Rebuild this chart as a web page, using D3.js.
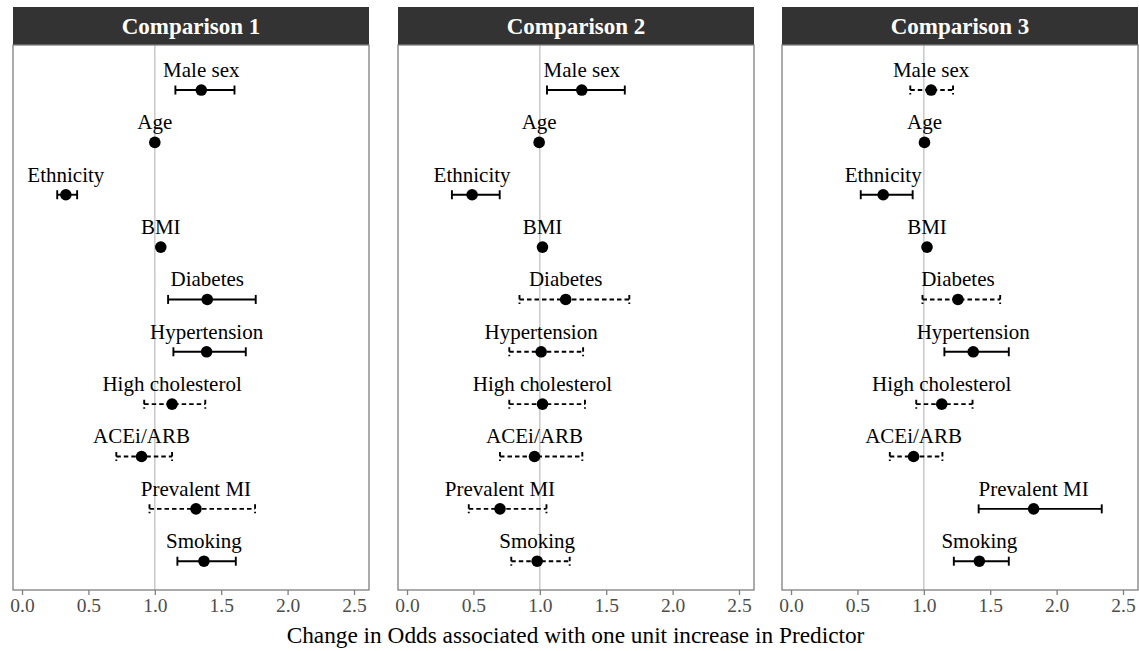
<!DOCTYPE html>
<html>
<head>
<meta charset="utf-8">
<script src="https://cdn.jsdelivr.net/npm/d3@7"></script>
<style>
  body { margin: 0; background: #fff; }
  svg { display: block; font-family: "Liberation Serif", "DejaVu Serif", serif; }
</style>
</head>
<body>
<div class="forest"></div>
<script>
// predictors, top to bottom
var predictors = ["Male sex", "Age", "Ethnicity", "BMI", "Diabetes", "Hypertension",
  "High cholesterol", "ACEi/ARB", "Prevalent MI", "Smoking"];
var comparisons = ["Comparison 1", "Comparison 2", "Comparison 3"];
var xTicks = [0.0, 0.5, 1.0, 1.5, 2.0, 2.5];

// odds ratios
var estimate1 = [1.35, 1.00, 0.33, 1.045, 1.395, 1.39, 1.13, 0.90, 1.31, 1.37];
var lower1    = [1.155, 0.99, 0.265, 1.035, 1.10, 1.14, 0.92, 0.71, 0.96, 1.17];
var upper1    = [1.60, 1.01, 0.415, 1.055, 1.76, 1.685, 1.38, 1.13, 1.755, 1.61];
var signif1   = [true, true, true, true, true, true, false, false, false, true];

var estimate2 = [1.316, 0.995, 0.49, 1.02, 1.195, 1.01, 1.02, 0.96, 0.70, 0.98];
var lower2    = [1.054, 0.985, 0.338, 1.01, 0.847, 0.77, 0.77, 0.70, 0.465, 0.785];
var upper2    = [1.64, 1.005, 0.698, 1.03, 1.674, 1.326, 1.34, 1.32, 1.05, 1.225];
var signif2   = [true, true, true, true, false, false, false, false, false, false];

var estimate3 = [1.055, 1.005, 0.694, 1.024, 1.257, 1.372, 1.135, 0.923, 1.827, 1.418];
var lower3    = [0.898, 0.995, 0.525, 1.014, 0.99, 1.155, 0.943, 0.744, 1.413, 1.226];
var upper3    = [1.22, 1.015, 0.916, 1.034, 1.575, 1.64, 1.367, 1.14, 2.34, 1.64];
var signif3   = [false, true, true, true, false, true, false, false, true, true];

function init() {
  var w = 1139;
  var h = 651;
  var stripTop = 7, stripH = 38;
  var panelTop = stripTop + stripH, panelBottom = 590;
  var panelLefts = [13, 398, 782];
  var panelW = 356;

  var panels = [
    { est: estimate1, lo: lower1, hi: upper1, sig: signif1 },
    { est: estimate2, lo: lower2, hi: upper2, sig: signif2 },
    { est: estimate3, lo: lower3, hi: upper3, sig: signif3 }
  ];

  var svg = d3.select(".forest")
    .append("svg")
    .attr("width", w)
    .attr("height", h);

  // row positions (index 0 at top)
  var yScale = d3.scaleLinear()
    .domain([-0.86, 9.55])
    .range([panelTop, panelBottom]);

  panels.forEach(function(p, k) {
    var left = panelLefts[k];
    var g = svg.append("g").attr("transform", "translate(" + left + ",0)");

    var xScale = d3.scaleLinear()
      .domain([-0.068, 2.613])
      .range([0, panelW]);

    var rows = predictors.map(function(name, i) {
      return { name: name, i: i, est: p.est[i], lo: p.lo[i], hi: p.hi[i], sig: p.sig[i] };
    });

    // strip
    g.append("rect")
      .attr("x", 0).attr("y", stripTop)
      .attr("width", panelW).attr("height", stripH)
      .attr("fill", "#333333");
    g.append("text")
      .text(comparisons[k])
      .attr("x", panelW / 2)
      .attr("y", stripTop + 27)
      .attr("text-anchor", "middle")
      .attr("font-size", "23px")
      .attr("font-weight", "bold")
      .attr("fill", "white");

    // reference line at 1
    g.append("line")
      .attr("x1", xScale(1)).attr("x2", xScale(1))
      .attr("y1", panelTop).attr("y2", panelBottom)
      .attr("stroke", "#cccccc")
      .attr("stroke-width", 1.6);

    // error bars
    var bars = g.selectAll("g.bar")
      .data(rows)
      .enter()
      .append("g")
      .attr("class", "bar")
      .attr("stroke", "black")
      .attr("stroke-width", 1.9)
      .attr("fill", "none")
      .attr("stroke-dasharray", function(d) { return d.sig ? null : "4.5,3"; });

    bars.append("line")
      .attr("x1", function(d) { return xScale(d.lo); })
      .attr("x2", function(d) { return xScale(d.hi); })
      .attr("y1", function(d) { return yScale(d.i); })
      .attr("y2", function(d) { return yScale(d.i); });
    bars.append("line")
      .attr("x1", function(d) { return xScale(d.lo); })
      .attr("x2", function(d) { return xScale(d.lo); })
      .attr("y1", function(d) { return yScale(d.i) - 4.5; })
      .attr("y2", function(d) { return yScale(d.i) + 4.5; });
    bars.append("line")
      .attr("x1", function(d) { return xScale(d.hi); })
      .attr("x2", function(d) { return xScale(d.hi); })
      .attr("y1", function(d) { return yScale(d.i) - 4.5; })
      .attr("y2", function(d) { return yScale(d.i) + 4.5; });

    // points
    g.selectAll("circle")
      .data(rows)
      .enter()
      .append("circle")
      .attr("cx", function(d) { return xScale(d.est); })
      .attr("cy", function(d) { return yScale(d.i); })
      .attr("r", 5.8)
      .attr("fill", "black");

    // labels
    g.selectAll("text.lab")
      .data(rows)
      .enter()
      .append("text")
      .attr("class", "lab")
      .text(function(d) { return d.name; })
      .attr("x", function(d) { return xScale(d.est); })
      .attr("y", function(d) { return yScale(d.i) - 13; })
      .attr("text-anchor", "middle")
      .attr("font-size", "21px")
      .attr("fill", "black");

    // border
    g.append("rect")
      .attr("x", 0).attr("y", panelTop)
      .attr("width", panelW).attr("height", panelBottom - panelTop)
      .attr("fill", "none")
      .attr("stroke", "#7f7f7f")
      .attr("stroke-width", 1.3);

    // x axis
    var xAxis = d3.axisBottom(xScale)
      .tickValues(xTicks)
      .tickSize(5)
      .tickPadding(3)
      .tickFormat(d3.format(".1f"));
    var ax = g.append("g")
      .attr("transform", "translate(0," + panelBottom + ")")
      .call(xAxis);
    ax.select(".domain").remove();
    ax.selectAll(".tick line").attr("stroke", "#7f7f7f").attr("stroke-width", 1.3);
    ax.selectAll(".tick text")
      .attr("fill", "#4d4d4d")
      .attr("font-size", "19.5px")
      .attr("font-family", "Liberation Serif, serif");
  });

  svg.append("text")
    .text("Change in Odds associated with one unit increase in Predictor")
    .attr("x", (panelLefts[0] + panelLefts[2] + panelW) / 2)
    .attr("y", 643)
    .attr("text-anchor", "middle")
    .attr("font-size", "23.3px")
    .attr("fill", "black");
}

window.onload = init;
</script>
</body>
</html>
